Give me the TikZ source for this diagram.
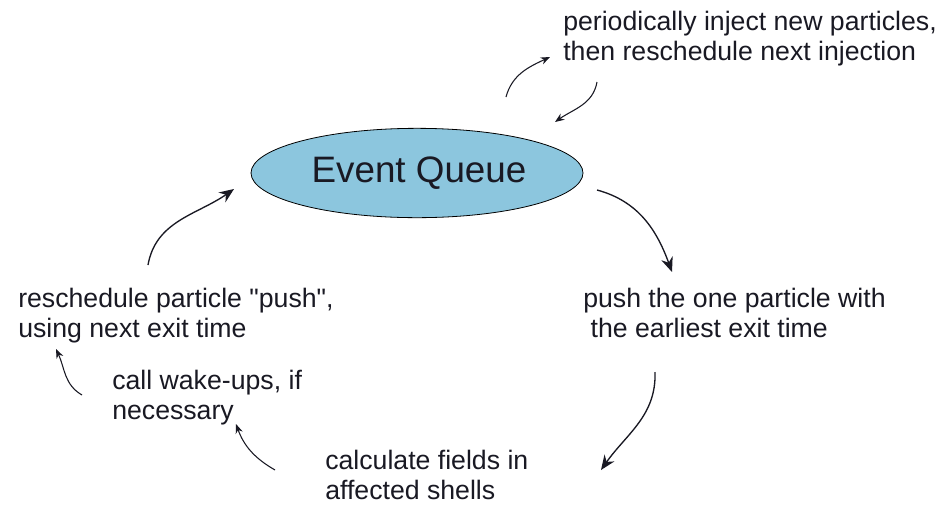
\documentclass[tikz,border=0pt]{standalone}
\usepackage{fontspec}
\setmainfont{Liberation Sans}
\usetikzlibrary{shapes,arrows.meta,positioning}
\definecolor{queueblue}{RGB}{140,198,222}
\definecolor{inkdark}{RGB}{25,25,35}

\begin{document}
\begin{tikzpicture}[x=0.75pt, y=0.75pt]
    \tikzstyle{queue} = [draw, ellipse, fill=queueblue, minimum width=249pt, minimum height=67pt, font=\fontsize{27.6}{30}\selectfont, text=inkdark, line width=0.6pt]
    \tikzstyle{note}  = [anchor=north west, align=left, inner sep=0pt, text=inkdark, font=\fontsize{20}{22.5}\selectfont]
    \tikzstyle{arrow} = [line width=1pt, draw=inkdark, -{Stealth[length=11pt, width=9pt]}]
    \tikzstyle{small} = [line width=0.8pt, draw=inkdark, -{Stealth[length=7pt, width=5.5pt]}]

    \useasboundingbox (0,0) rectangle (946,-504);

    \node [queue] (queue) at (417,-173) {\hspace{3pt}Event Queue};

    \node [note] (inject) at (563,-11) {periodically inject new particles,\\then reschedule next injection};
    \node [note] (push) at (583,-288) {push the one particle with\\\ the earliest exit time};
    \node [note] (fields) at (325,-450) {calculate fields in\\affected shells};
    \node [note] (wake) at (112,-370) {call wake-ups, if\\necessary};
    \node [note] (resched) at (18,-288) {reschedule particle \textquotedbl push\textquotedbl,\\using next exit time};

    % arrow ends
    \coordinate (a1s) at (506,-97);  \coordinate (a1e) at (550,-57);
    \coordinate (a2s) at (597,-82);  \coordinate (a2e) at (555,-122);
    \coordinate (a3s) at (597,-190); \coordinate (a3e) at (672,-272);
    \coordinate (a4s) at (655,-372); \coordinate (a4e) at (601,-470);
    \coordinate (a5s) at (275,-470); \coordinate (a5e) at (236,-424);
    \coordinate (a6s) at (82,-395);  \coordinate (a6e) at (56,-349);
    \coordinate (a7s) at (148,-265); \coordinate (a7e) at (234,-189);

    % Connections
    \draw [small] (a1s) to[out=75, in=205] (a1e);
    \draw [small] (a2s) to[out=-100, in=35] (a2e);
    \draw [arrow] (a3s) to[out=-15, in=110] (a3e);
    \draw [arrow] (a4s) to[out=-88, in=55] (a4e);
    \draw [small] (a5s) to[out=150, in=-70] (a5e);
    \draw [small] (a6s) to[out=150, in=-65] (a6e);
    \draw [arrow] (a7s) to[out=80, in=215] (a7e);

\end{tikzpicture}
\end{document}
